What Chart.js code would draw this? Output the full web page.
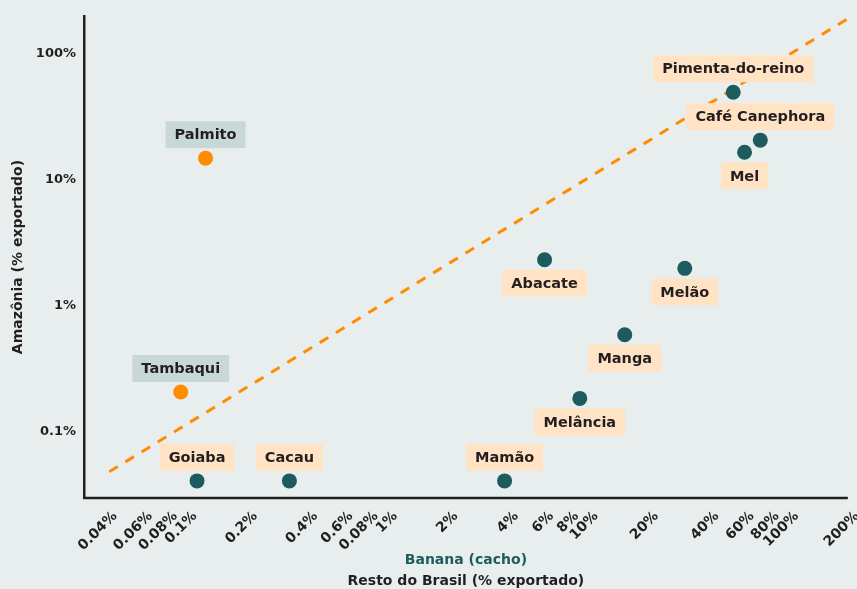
<!DOCTYPE html>
<html>
<head>
<meta charset="utf-8">
<script src="https://cdn.jsdelivr.net/npm/chart.js@4"></script>
<style>
  html, body { margin: 0; padding: 0; background: #e8eeee; }
  #wrap { width: 857px; height: 589px; }
</style>
</head>
<body>
<div id="wrap"><canvas id="exportChart"></canvas></div>
<script>
// produtos e % exportado (Resto do Brasil x Amazônia)
const produtos = ["Palmito", "Tambaqui", "Goiaba", "Cacau", "Mamão", "Melância", "Manga", "Abacate", "Melão", "Mel", "Café Canephora", "Pimenta-do-reino"];
const restoBrasil = [0.113, 0.085, 0.1025, 0.296, 3.5, 8.3, 13.9, 5.54, 27.7, 55.0, 65.9, 48.3];
const amazonia = [14.9, 0.208, 0.041, 0.041, 0.041, 0.185, 0.592, 2.33, 1.99, 16.6, 20.7, 49.7];
const destaque = [true, true, false, false, false, false, false, false, false, false, false, false];
const rotuloAcima = [true, true, true, true, true, false, false, false, false, false, true, true];

// linha tracejada de referência
const linhaX = [0.0374, 189];
const linhaY = [0.0484, 200];

const xTicks = [0.04, 0.06, 0.08, 0.1, 0.2, 0.4, 0.6, 0.8, 1, 2, 4, 6, 8, 10, 20, 40, 60, 80, 100, 200];
const xTickLabels = ["0.04%", "0.06%", "0.08%", "0.1%", "0.2%", "0.4%", "0.6%", "0.08%", "1%", "2%", "4%", "6%", "8%", "10%", "20%", "40%", "60%", "80%", "100%", "200%"];
const yTicks = [0.1, 1, 10, 100];
const yTickLabels = ["0.1%", "1%", "10%", "100%"];
const xFimEixo = 180;

const TEAL = "#1d5b5e";
const ORANGE = "#ff8c00";
const INK = "#231f20";
const FONT = "'DejaVu Sans'";

function pontos(flag) {
  const out = [];
  produtos.forEach((p, i) => {
    if (destaque[i] === flag) out.push({ x: restoBrasil[i], y: amazonia[i], nome: p, acima: rotuloAcima[i] });
  });
  return out;
}

const rotulos = {
  id: "rotulos",
  beforeDatasetsDraw(chart) {
    // eixo x termina antes da borda
    const ctx = chart.ctx;
    const xs = chart.scales.x;
    const area = chart.chartArea;
    const xEnd = xs.getPixelForValue(xFimEixo);
    ctx.save();
    ctx.strokeStyle = INK;
    ctx.lineWidth = 2.5;
    ctx.beginPath();
    ctx.moveTo(area.left - 1, area.bottom);
    ctx.lineTo(xEnd, area.bottom);
    ctx.stroke();

    // títulos do eixo x
    const cx = (area.left + xEnd) / 2;
    ctx.textAlign = "center";
    ctx.textBaseline = "middle";
    ctx.font = "bold 14px " + FONT;
    ctx.fillStyle = TEAL;
    ctx.fillText("Banana (cacho)", cx, area.bottom + 62);
    ctx.fillStyle = INK;
    ctx.fillText("Resto do Brasil (% exportado)", cx, area.bottom + 83);
    ctx.restore();
  },
  afterDatasetsDraw(chart) {
    const ctx = chart.ctx;
    ctx.save();
    ctx.font = "bold 14.5px " + FONT;
    ctx.textAlign = "center";
    ctx.textBaseline = "middle";
    [0, 1].forEach(di => {
      const meta = chart.getDatasetMeta(di);
      const ds = chart.data.datasets[di];
      meta.data.forEach((el, j) => {
        const d = ds.data[j];
        const w = ctx.measureText(d.nome).width + 18;
        const h = 27;
        const cy = el.y + (d.acima ? -23.5 : 23.5);
        ctx.fillStyle = di === 0 ? "#c8d8d8" : "#ffe3c4";
        ctx.fillRect(el.x - w / 2, cy - h / 2, w, h);
        ctx.fillStyle = INK;
        ctx.fillText(d.nome, el.x, cy + 1);
      });
    });
    ctx.restore();
  }
};

const ctx = document.getElementById("exportChart").getContext("2d");

new Chart(ctx, {
  type: "scatter",
  data: {
    datasets: [
      {
        data: pontos(true),
        backgroundColor: ORANGE,
        pointRadius: 7.5,
        borderWidth: 0,
        order: 1
      },
      {
        data: pontos(false),
        backgroundColor: TEAL,
        pointRadius: 7.5,
        borderWidth: 0,
        order: 1
      },
      {
        type: "line",
        data: linhaX.map((x, i) => ({ x: x, y: linhaY[i] })),
        borderColor: ORANGE,
        borderWidth: 3,
        borderDash: [10, 9],
        pointRadius: 0,
        fill: false,
        order: 2
      }
    ]
  },
  options: {
    responsive: true,
    maintainAspectRatio: false,
    animation: false,
    layout: { autoPadding: false, padding: { top: 16, right: 0, left: 0, bottom: 0 } },
    plugins: {
      legend: { display: false },
      tooltip: { enabled: false }
    },
    scales: {
      x: {
        type: "logarithmic",
        min: 0.028,
        max: 200,
        grid: { display: false, drawTicks: false },
        border: { display: false },
        afterBuildTicks: s => { s.ticks = xTicks.map(v => ({ value: v })); },
        afterFit: s => { s.height = 91; s.paddingLeft = 0; s.paddingRight = 0; },
        ticks: {
          autoSkip: false,
          minRotation: 45,
          maxRotation: 45,
          padding: 10,
          color: INK,
          font: { family: FONT, size: 14, weight: "bold" },
          callback: (v, i) => xTickLabels[i]
        }
      },
      y: {
        type: "logarithmic",
        min: 0.03,
        max: 200,
        grid: { display: false, drawTicks: false },
        border: { display: true, color: INK, width: 2.5 },
        afterBuildTicks: s => { s.ticks = yTicks.map(v => ({ value: v })); },
        afterFit: s => { s.width = 84; s.paddingTop = 0; s.paddingBottom = 0; },
        ticks: {
          padding: 8,
          color: INK,
          font: { family: FONT, size: 13, weight: "bold" },
          callback: (v, i) => yTickLabels[i]
        },
        title: {
          display: true,
          text: "Amazônia (% exportado)",
          color: INK,
          font: { family: FONT, size: 14, weight: "bold" },
          padding: { top: 10, bottom: 0 }
        }
      }
    }
  },
  plugins: [rotulos]
});
</script>
</body>
</html>
